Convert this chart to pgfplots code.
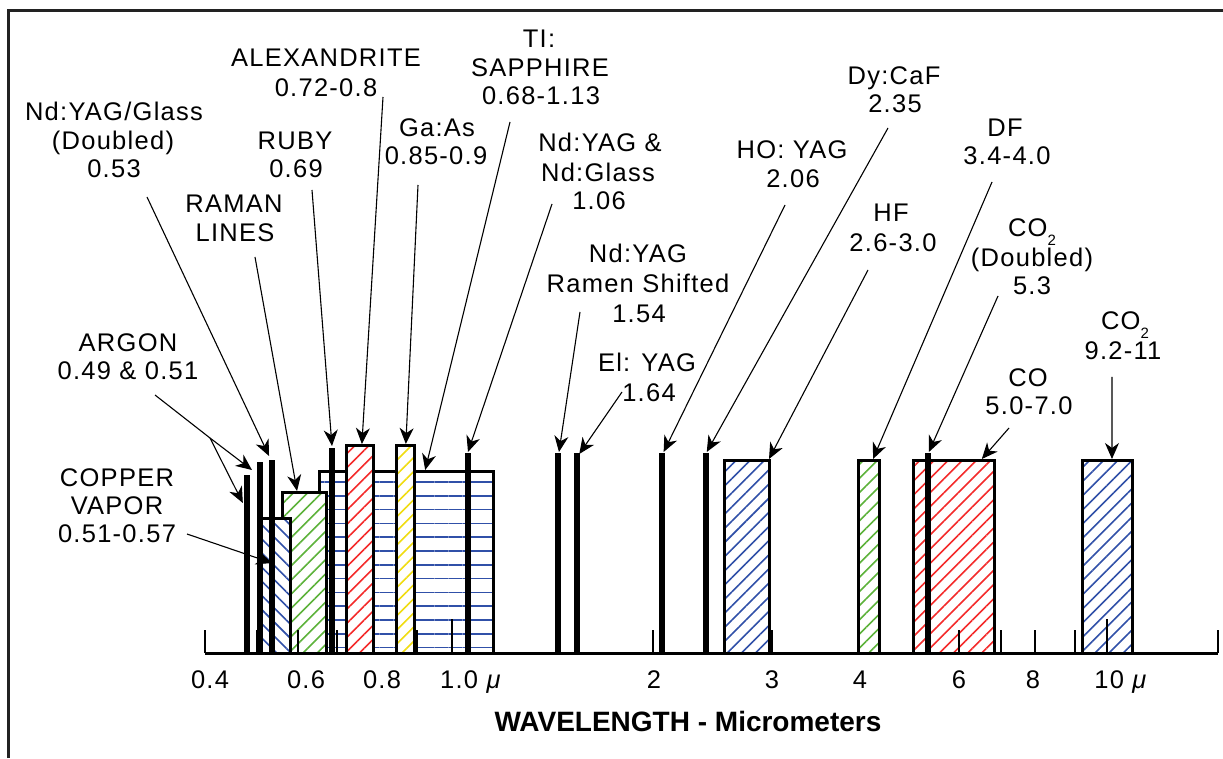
\documentclass[border=0pt]{standalone}
\usepackage{pgfplots}
\pgfplotsset{compat=1.18}
\usepackage{fontspec}
\setmainfont{Liberation Sans}[LetterSpace=5]
\newfontfamily\xlabfont{Liberation Sans}
\usetikzlibrary{patterns.meta,arrows.meta}

\definecolor{hblue}{HTML}{3050A8}
\definecolor{hgreen}{HTML}{5CB23A}
\definecolor{hred}{HTML}{F42A2A}
\definecolor{hyellow}{HTML}{F0DC10}
\definecolor{framec}{HTML}{222222}

\newcommand\lblfont{\fontsize{25.5}{29}\selectfont}

% piecewise log-linear map of wavelength (micrometres) onto the drawing's hand-made scale
\makeatletter
\def\wl@anchors{0.3/150,0.4/206,0.49/247,0.51/260,0.53/272,0.57/290,0.68/319,0.69/332,0.72/346,0.8/373,0.85/396,0.9/414,1.06/468,1.13/493,1.54/558,1.64/577,2.06/662,2.35/706,2.6/724,3.0/769,3.4/858,4.0/879,5.0/913,5.3/928,7.0/994,9.2/1082,11/1132,20/1300}
\def\wl@split#1/#2\@nil{\def\wl@cw{#1}\def\wl@cp{#2}}
\newcommand\wltrafo[1]{%
  \begingroup
  \edef\wl@raw{#1}%
  \edef\wl@tmp{\noexpand\in@{Y}{\wl@raw}}\wl@tmp
  \ifin@
    \pgfmathfloattofixed{\wl@raw}\let\wl@in\pgfmathresult
    \pgfkeys{/pgf/fpu=false}%
  \else
    \pgfkeys{/pgf/fpu=false}%
    \pgfmathparse{\wl@raw}\let\wl@in\pgfmathresult
  \fi
  \let\wl@res\wl@in
  \ifdim\wl@in pt<99pt\relax
   \ifdim\wl@in pt>0.05pt\relax
    \pgfmathparse{ln(\wl@in)}\let\wl@lin\pgfmathresult
    \let\wl@pl\@empty
    \def\wl@done{0}%
    \@for\wl@pair:=\wl@anchors\do{%
      \ifnum\wl@done=0\relax
        \expandafter\wl@split\wl@pair\@nil
        \pgfmathparse{ln(\wl@cw)}\let\wl@cl\pgfmathresult
        \ifx\wl@pl\@empty\else
          \ifdim\wl@lin pt<\wl@cl pt\relax
            \pgfmathparse{\wl@pp+(\wl@cp-\wl@pp)*((\wl@lin)-(\wl@pl))/((\wl@cl)-(\wl@pl))}%
            \let\wl@res\pgfmathresult
            \def\wl@done{1}%
          \fi
        \fi
        \let\wl@pl\wl@cl
        \let\wl@pp\wl@cp
      \fi}%
   \fi
  \fi
  \xdef\wl@out{\wl@res}%
  \endgroup
  \let\pgfmathresult\wl@out}
\makeatother

\begin{document}
\begin{tikzpicture}
\path[use as bounding box] (0,0) rectangle (1223pt,758pt);
\begin{axis}[
  at={(205pt,105pt)}, anchor=south west, scale only axis,
  width=1013pt, height=220pt,
  xmin=205, xmax=1218, ymin=0, ymax=220,
  enlargelimits=false, clip=false, axis on top,
  x coord trafo/.code={\wltrafo{#1}},
  axis x line=bottom, axis y line=none,
  axis line style={-, line width=3pt, black},
  tick align=inside,
  xtick={210,306,382,471,654,772,860,959,1033,1121},
  xticklabels={0.4,0.6,0.8,{1.0 \textit{μ}},2,3,4,6,8,{10 \textit{μ}}},
  major tick length=0pt,
  extra x ticks={205,257,298,337,417,653,772,859,959,1001,1035,1075,1218},
  extra x tick labels={},
  extra x tick style={major tick length=23pt},
  minor xtick={452,1107}, minor tick length=34pt,
  tick style={black, line width=2.5pt},
  xticklabel style={anchor=base, yshift=-35pt, font=\lblfont, inner sep=0pt},
  ytick=\empty,
  no markers,
]
% Ti:Sapphire 0.68-1.13
\addplot[draw=black, line width=3pt, fill=white, postaction={pattern={Lines[angle=0,distance=13.8pt,line width=1.5pt]}, pattern color=hblue}]
  coordinates {(0.68,0) (0.68,181) (1.13,181) (1.13,0)} -- cycle;
% Raman lines
\addplot[draw=black, line width=3pt, fill=white, postaction={pattern={Lines[angle=45,distance=10pt,line width=1.6pt]}, pattern color=hgreen}]
  coordinates {(0.552,0) (0.552,160) (0.686,160) (0.686,0)} -- cycle;
% Copper vapor 0.51-0.57
\addplot[draw=black, line width=3pt, fill=white, postaction={pattern={Lines[angle=-45,distance=10pt,line width=1.6pt]}, pattern color=hblue}]
  coordinates {(0.51,0) (0.51,135) (0.57,135) (0.57,0)} -- cycle;
% Alexandrite 0.72-0.8
\addplot[draw=black, line width=3pt, fill=white, postaction={pattern={Lines[angle=45,distance=10pt,line width=1.6pt]}, pattern color=hred}]
  coordinates {(0.72,0) (0.72,207) (0.8,207) (0.8,0)} -- cycle;
% Ga:As 0.85-0.9
\addplot[draw=black, line width=3pt, fill=white, postaction={pattern={Lines[angle=45,distance=10pt,line width=1.6pt]}, pattern color=hyellow}]
  coordinates {(0.85,0) (0.85,207) (0.9,207) (0.9,0)} -- cycle;
% HF 2.6-3.0
\addplot[draw=black, line width=3pt, fill=white, postaction={pattern={Lines[angle=45,distance=10pt,line width=1.6pt]}, pattern color=hblue}]
  coordinates {(2.6,0) (2.6,192) (3.0,192) (3.0,0)} -- cycle;
% DF 3.4-4.0
\addplot[draw=black, line width=3pt, fill=white, postaction={pattern={Lines[angle=45,distance=10pt,line width=1.6pt]}, pattern color=hgreen}]
  coordinates {(3.4,0) (3.4,192) (4.0,192) (4.0,0)} -- cycle;
% CO 5.0-7.0
\addplot[draw=black, line width=3pt, fill=white, postaction={pattern={Lines[angle=45,distance=10pt,line width=1.6pt]}, pattern color=hred}]
  coordinates {(5.0,0) (5.0,192) (7.0,192) (7.0,0)} -- cycle;
% CO2 9.2-11
\addplot[draw=black, line width=3pt, fill=white, postaction={pattern={Lines[angle=45,distance=10pt,line width=1.6pt]}, pattern color=hblue}]
  coordinates {(9.2,0) (9.2,192) (11,192) (11,0)} -- cycle;
% single lines
\addplot[ycomb, black, line width=5.5pt]
  coordinates {(0.49,178) (0.51,191) (0.53,193) (0.69,205) (1.06,200) (1.54,200) (1.64,200) (2.06,200) (2.35,200) (5.3,200)};

\coordinate (tArgA) at (axis cs:0.4976,183);
\coordinate (tArgB) at (axis cs:0.480,150);
\coordinate (tNdD) at (axis cs:0.525,197);
\coordinate (tCu) at (axis cs:0.53,90);
\coordinate (tRaman) at (axis cs:0.595,162);
\coordinate (tRuby) at (axis cs:0.69,207);
\coordinate (tAlex) at (axis cs:0.766,209);
\coordinate (tGaAs) at (axis cs:0.877,209);
\coordinate (tTiSa) at (axis cs:0.931,183);
\coordinate (tNd) at (axis cs:1.06,201);
\coordinate (tRam) at (axis cs:1.545,201);
\coordinate (tEr) at (axis cs:1.65,199);
\coordinate (tHo) at (axis cs:2.07,201);
\coordinate (tDy) at (axis cs:2.36,201);
\coordinate (tHF) at (axis cs:3.0,194);
\coordinate (tDF) at (axis cs:3.82,194);
\coordinate (tCOd) at (axis cs:5.32,201);
\coordinate (tCO) at (axis cs:6.65,194);
\coordinate (tCOt) at (axis cs:10.24,194);
\end{axis}

\begin{scope}[x=1pt,y=-1pt,shift={(0pt,758pt)},
  lbl/.style={anchor=base, inner sep=0pt, font=\lblfont},
  ptl/.style={line width=1.1pt, black},
  ptr/.style={line width=1.1pt, black, -{Stealth[length=16pt,width=14pt,inset=5pt]}}]
\draw[color=framec, line width=3pt] (8.5,758) -- (8.5,10.5) -- (1223,10.5);

\node[lbl] at (114,121) {Nd:YAG/Glass};
\node[lbl] at (113,150) {(Doubled)};
\node[lbl] at (114,178) {0.53};
\node[lbl] at (326,67) {ALEXANDRITE};
\node[lbl] at (326,97) {0.72-0.8};
\node[lbl] at (295,150) {RUBY};
\node[lbl] at (296,178) {0.69};
\node[lbl] at (234,213) {RAMAN};
\node[lbl] at (235,242) {LINES};
\node[lbl] at (128,352) {ARGON};
\node[lbl] at (128,380) {0.49 \& 0.51};
\node[lbl] at (117,487) {COPPER};
\node[lbl] at (117,515) {VAPOR};
\node[lbl] at (117,543) {0.51-0.57};
\node[lbl] at (539,48) {TI:};
\node[lbl] at (540,77) {SAPPHIRE};
\node[lbl] at (541,105) {0.68-1.13};
\node[lbl] at (437,137) {Ga:As};
\node[lbl] at (436,165) {0.85-0.9};
\node[lbl] at (600,152) {Nd:YAG \&};
\node[lbl] at (598,182) {Nd:Glass};
\node[lbl] at (599,210) {1.06};
\node[lbl] at (792,159) {HO: YAG};
\node[lbl] at (793,188) {2.06};
\node[lbl] at (638,263) {Nd:YAG};
\node[lbl] at (638,293) {Ramen Shifted};
\node[lbl] at (639,323) {1.54};
\node[lbl] at (647,372) {El: YAG};
\node[lbl] at (649,402) {1.64};
\node[lbl] at (894,85) {Dy:CaF};
\node[lbl] at (895,113) {2.35};
\node[lbl] at (1005,137) {DF};
\node[lbl] at (1007,165) {3.4-4.0};
\node[lbl] at (891,222) {HF};
\node[lbl] at (893,252) {2.6-3.0};
\node[lbl] at (1032,237) {CO\raisebox{-9pt}{\fontsize{15}{15}\selectfont 2}};
\node[lbl] at (1032,267) {(Doubled)};
\node[lbl] at (1032,295) {5.3};
\node[lbl] at (1125,330) {CO\raisebox{-9pt}{\fontsize{15}{15}\selectfont 2}};
\node[lbl] at (1123,360) {9.2-11};
\node[lbl] at (1028,387) {CO};
\node[lbl] at (1029,415) {5.0-7.0};

\node[anchor=base, inner sep=0pt, font=\xlabfont\bfseries\fontsize{28}{32}\selectfont] at (688,731) {WAVELENGTH - Micrometers};

\draw[ptl] (155,395) -- (210,438);
\draw[ptr] (210,438) -- (tArgA);
\draw[ptr] (210,438) -- (tArgB);
\draw[ptr] (147,197) -- (tNdD);
\draw[ptr] (187,534) -- (tCu);
\draw[ptr] (255,257) -- (tRaman);
\draw[ptr] (312,190) -- (tRuby);
\draw[ptr] (383,97) -- (tAlex);
\draw[ptr] (418,185) -- (tGaAs);
\draw[ptr] (510,122) -- (tTiSa);
\draw[ptr] (552,204) -- (tNd);
\draw[ptr] (580,312) -- (tRam);
\draw[ptr] (622,392) -- (tEr);
\draw[ptr] (785,205) -- (tHo);
\draw[ptr] (888,128) -- (tDy);
\draw[ptr] (868,270) -- (tHF);
\draw[ptr] (992,182) -- (tDF);
\draw[ptr] (998,296) -- (tCOd);
\draw[ptr] (1009,428) -- (tCO);
\draw[ptr] (1112,377) -- (tCOt);
\end{scope}
\end{tikzpicture}
\end{document}
